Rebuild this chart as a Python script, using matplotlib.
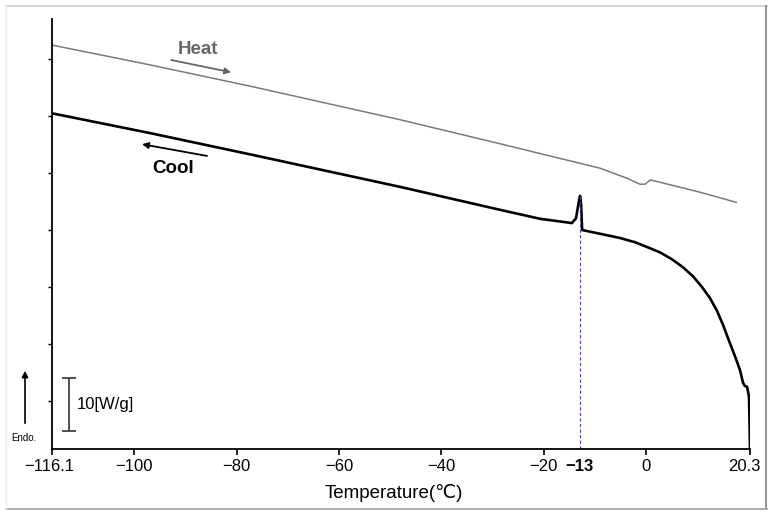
import matplotlib
matplotlib.use("Agg")
import matplotlib.pyplot as plt
from matplotlib.lines import Line2D
from matplotlib.transforms import ScaledTranslation

plt.rcParams['font.family'] = ['Liberation Sans', 'DejaVu Sans']

# ---- data (temperature in degC, heat flow in W/g, arbitrary offset) ----
heat_temp = [-116.1, -97.0, -77.4, -48.1, -28.6, -18.8, -9.0, -3.7, -1.2, -0.2,
             0.8, 1.7, 10.5, 17.6]
heat_flow = [75.8, 72.1, 68.1, 61.8, 57.3, 55.0, 52.7, 50.8, 49.7, 49.7,
             50.5, 50.3, 48.2, 46.3]

cool_temp = [-116.1, -97.0, -77.4, -48.1, -28.6, -20.7, -14.5, -13.7, -13.1,
             -12.9, -12.7, -12.5, -5.1, -2.15, 0.18, 2.72, 5.06, 7.21, 9.17,
             10.92, 12.49, 13.86, 15.03, 16.2, 17.37, 18.35, 18.94, 19.33,
             19.72, 20.1, 20.2, 20.3]
cool_flow = [63.0, 59.3, 55.3, 49.2, 44.9, 43.2, 42.4, 43.3, 46.7,
             47.5, 45.8, 41.1, 39.6, 38.8, 37.9, 36.9, 35.6, 34.1, 32.4,
             30.4, 28.3, 25.9, 23.3, 20.3, 17.4, 14.8, 12.4, 11.8,
             11.7, 9.8, 5.4, 0.0]

onset_temp = -13
onset_peak = 47.5

xtick_values = [-116.1, -100, -80, -60, -40, -20, -13, 0, 20.3]
xtick_labels = ['\u2212116.1', '\u2212100', '\u221280', '\u221260', '\u221240',
                '\u221220', '\u221213', '0', '20.3']

scale_value = 10  # W/g
scale_label = '10[W/g]'

# ---- figure ----
W, H = 775, 517
fig = plt.figure(figsize=(W / 100, H / 100), dpi=100)
ax = fig.add_axes([52 / W, 1 - 449 / H, (750 - 52) / W, (449 - 19) / H])

ax.plot(heat_temp, heat_flow, color='#7a7a7a', lw=1.1, solid_joinstyle='round')
ax.plot(cool_temp, cool_flow, color='black', lw=1.9, solid_joinstyle='round')
ax.vlines(onset_temp, 0, onset_peak, colors='#4a4aa0', linestyles=(0, (3, 2)), lw=0.8)

ax.set_xlim(-116.1, 20.3)
ax.set_ylim(0, 80.7)

for s in ['top', 'right']:
    ax.spines[s].set_visible(False)
for s in ['left', 'bottom']:
    ax.spines[s].set_linewidth(1.3)

ax.set_xticks(xtick_values)
ax.set_xticklabels(xtick_labels, fontsize=12)
ax.tick_params(axis='x', direction='out', length=4, width=1.2, pad=3)
for val, tick in zip(xtick_values, ax.xaxis.get_major_ticks()):
    if val == onset_temp:
        tick.tick1line.set_visible(False)
        tick.label1.set_fontweight('bold')
    if val == 20.3:
        tick.label1.set_transform(tick.label1.get_transform()
                                  + ScaledTranslation(-6 / 100, 0, fig.dpi_scale_trans))
    if val == -116.1:
        tick.label1.set_transform(tick.label1.get_transform()
                                  + ScaledTranslation(-3 / 100, 0, fig.dpi_scale_trans))

ytick_pos = [9.0, 19.7, 30.4, 41.1, 51.8, 62.5, 73.2]
ax.set_yticks(ytick_pos)
ax.set_yticklabels([])
ax.tick_params(axis='y', direction='out', length=3, width=1.0)

# Heat / Cool annotations
ax.text(-87.6, 74.9, 'Heat', color='#666666', fontsize=13.5, fontweight='bold',
        ha='center', va='center')
ax.annotate('', xy=(-81.1, 70.7), xytext=(-92.8, 73.0),
            arrowprops=dict(arrowstyle='-|>', color='#666666', lw=1.3, mutation_scale=9,
                            shrinkA=0, shrinkB=0))
ax.text(-92.4, 52.7, 'Cool', color='black', fontsize=13.5, fontweight='bold',
        ha='center', va='center')
ax.annotate('', xy=(-98.5, 57.2), xytext=(-85.8, 55.0),
            arrowprops=dict(arrowstyle='-|>', color='black', lw=1.3, mutation_scale=9,
                            shrinkA=0, shrinkB=0))

# scale bar
sb_x, sb_y0 = -112.8, 3.4
ax.errorbar([sb_x], [sb_y0 + scale_value / 2], yerr=[scale_value / 2], color='#333333',
            capsize=5, elinewidth=1.2, capthick=1.2)
ax.text(sb_x + 1.5, sb_y0 + scale_value / 2, scale_label, fontsize=12,
        ha='left', va='center')

# Endo arrow (figure coords)
fig.add_artist(matplotlib.patches.FancyArrowPatch(
    (25 / W, 1 - 426 / H), (25 / W, 1 - 368 / H), transform=fig.transFigure,
    arrowstyle='-|>', mutation_scale=9, color='black', lw=1.2))
fig.text(24 / W, 1 - 438 / H, 'Endo.', fontsize=7, ha='center', va='center')

# x label
fig.text(394 / W, 1 - 493 / H, 'Temperature(\u2103)', fontsize=13.5, ha='center', va='center')

# frame around the figure
fig.add_artist(Line2D([6 / W, 767 / W], [1 - 6 / H, 1 - 6 / H], transform=fig.transFigure,
                      color='#d0d0d0', lw=1.2))
fig.add_artist(Line2D([766 / W, 766 / W], [1 - 6 / H, 1 - 509 / H], transform=fig.transFigure,
                      color='#808080', lw=1.2))
fig.add_artist(Line2D([6 / W, 767 / W], [1 - 509 / H, 1 - 509 / H], transform=fig.transFigure,
                      color='#a0a0a0', lw=1.2))
fig.add_artist(Line2D([6 / W, 6 / W], [1 - 6 / H, 1 - 509 / H], transform=fig.transFigure,
                      color='#ececec', lw=1.0))

fig.savefig('out.png', dpi=100)
